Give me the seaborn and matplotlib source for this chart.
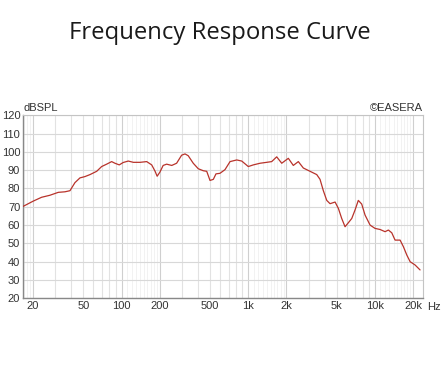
import numpy as np
import pandas as pd
import matplotlib
matplotlib.use("Agg")
import matplotlib.pyplot as plt
import seaborn as sns

title = "Frequency Response Curve"
freq_hz = [16.7, 20.1, 23.4, 27.2, 31.7, 35.8, 39.2, 42.9, 47.0, 51.4, 56.4, 63.7, 69.7,
           76.3, 83.6, 88.7, 96.0, 103, 113, 124, 140, 158, 173, 184, 191, 201, 213, 227,
           249, 272, 298, 317, 336, 368, 403, 442, 470, 499, 530, 556, 598, 655, 718, 811,
           888, 1000, 1096, 1239, 1398, 1530, 1676, 1836, 2070, 2266, 2482, 2718, 3070,
           3468, 3682, 3910, 4160, 4416, 4840, 5140, 5460, 5800, 6160, 6550, 6950, 7380,
           7850, 8340, 9140, 10000, 10960, 12000, 12740, 13550, 14390, 15770, 16740, 17820,
           18920, 20700, 22660]
spl_db = [70.2, 73.1, 75.2, 76.3, 77.9, 78.2, 78.8, 83.2, 85.8, 86.5, 87.6, 89.4, 92.0,
          93.3, 94.7, 93.8, 92.9, 94.2, 95.0, 94.3, 94.3, 94.7, 92.9, 89.4, 86.7, 89.0, 92.6,
          93.3, 92.6, 93.8, 98.2, 98.9, 97.9, 93.8, 90.8, 89.7, 89.4, 84.4, 85.0, 88.0, 88.3,
          90.3, 94.7, 95.6, 95.0, 92.0, 92.9, 93.8, 94.3, 94.7, 97.3, 93.8, 96.5, 92.6, 94.7,
          91.2, 89.4, 87.6, 85.0, 78.8, 73.5, 71.7, 72.6, 69.1, 63.6, 59.1, 61.3, 63.6, 68.2,
          73.5, 71.5, 65.5, 60.0, 58.2, 57.6, 56.4, 57.3, 55.8, 51.8, 51.8, 48.2, 43.6, 40.0,
          38.2, 35.5]
x_ticks = [20, 50, 100, 200, 500, 1000, 2000, 5000, 10000, 20000]
x_tick_labels = ["20", "50", "100", "200", "500", "1k", "2k", "5k", "10k", "20k"]
y_ticks = [20, 30, 40, 50, 60, 70, 80, 90, 100, 110, 120]

df = pd.DataFrame({"freq": freq_hz, "spl": spl_db})

sns.set_style("white")
plt.rcParams["font.family"] = ["Liberation Sans", "DejaVu Sans"]

fig = plt.figure(figsize=(4.43, 3.82), dpi=100)
ax = fig.add_axes([23 / 443, 1 - 298.3 / 382, 400 / 443, (298.3 - 115.3) / 382])

ax.set_xscale("log")
ax.set_xlim(16.7, 23900)
ax.set_ylim(20, 120)

# grid lines
for k in [1, 10, 100, 1000, 10000]:
    for m in np.arange(1.1, 2.0, 0.1):
        ax.axvline(m * k, color="#f0f0f0", lw=0.6, zorder=0)
    for m in range(1, 10):
        c = "#cfcfcf" if m in (1, 2) else "#e2e2e2"
        ax.axvline(m * k, color=c, lw=0.8, zorder=0)
for yv in y_ticks:
    ax.axhline(yv, color="#d8d8d8", lw=0.8, zorder=0)

sns.lineplot(data=df, x="freq", y="spl", ax=ax, color="#b8332b", lw=0.9,
             estimator=None, sort=False, zorder=3)

ax.set_xticks(x_ticks)
ax.set_xticklabels(x_tick_labels)
ax.set_yticks(y_ticks)
ax.minorticks_off()
ax.tick_params(axis="both", length=0, labelsize=8, colors="#333333", pad=2)
ax.set_xlabel("")
ax.set_ylabel("")

for s in ["top", "right"]:
    ax.spines[s].set_color("#c4c4c4")
    ax.spines[s].set_linewidth(0.8)
for s in ["left", "bottom"]:
    ax.spines[s].set_color("#888888")
    ax.spines[s].set_linewidth(1.0)

ax.text(0.0, 1.01, "dBSPL", transform=ax.transAxes, ha="left", va="bottom",
        fontsize=8, color="#333333")
ax.text(1.0, 1.01, "\u00a9EASERA", transform=ax.transAxes, ha="right", va="bottom",
        fontsize=8, color="#333333")
ax.text(1.01, -0.02, "Hz", transform=ax.transAxes, ha="left", va="top",
        fontsize=8, color="#333333")

fig.text(0.497, 1 - 33 / 382, title, ha="center", va="center", fontsize=17.2,
         family="Open Sans", color="#1a1a1a")

fig.savefig("out.png", dpi=100)
